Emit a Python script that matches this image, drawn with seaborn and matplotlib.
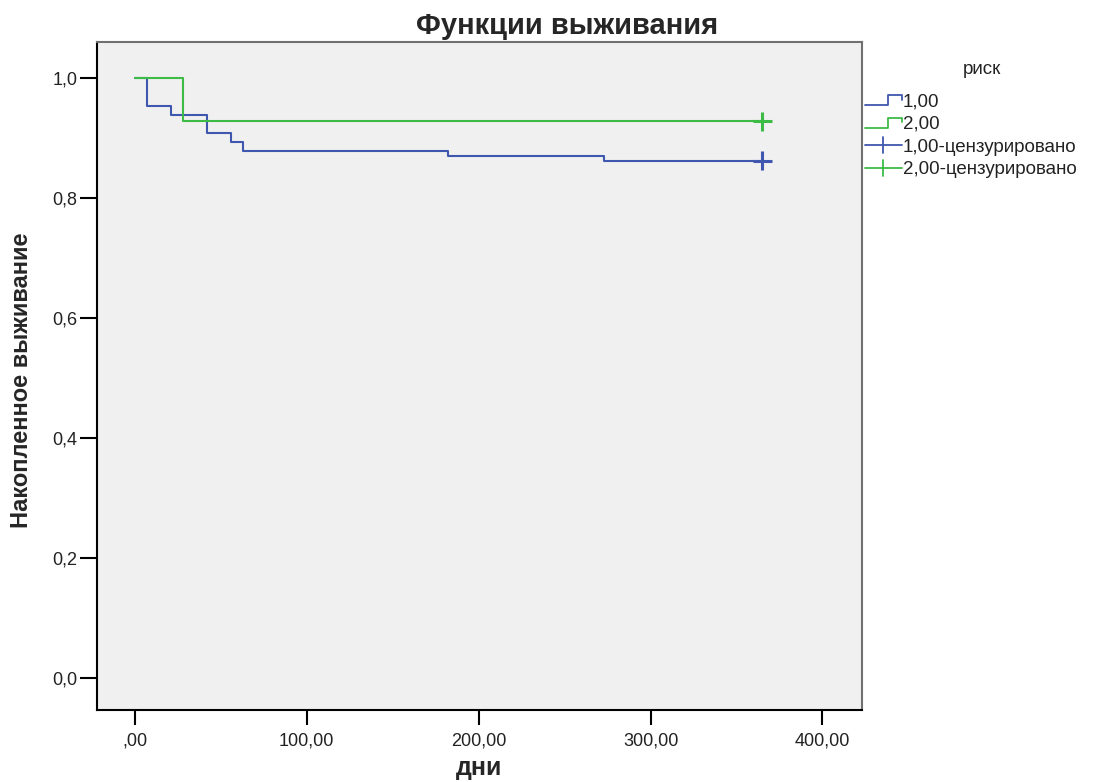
import matplotlib
matplotlib.use("Agg")
import matplotlib.pyplot as plt
from matplotlib.legend_handler import HandlerBase
from matplotlib.lines import Line2D
import pandas as pd
import seaborn as sns

# survival step data
risk1_days = [0, 7, 21, 42, 56, 63, 182, 273, 365]
risk1_surv = [1.0, 0.954, 0.939, 0.908, 0.893, 0.878, 0.870, 0.862, 0.862]
risk2_days = [0, 28, 365]
risk2_surv = [1.0, 0.928, 0.928]

groups = ["1,00", "2,00"]
censor_days = [365, 365]
censor_surv = [0.862, 0.928]

x_ticks = [0, 100, 200, 300, 400]
x_tick_labels = [",00", "100,00", "200,00", "300,00", "400,00"]
y_ticks = [0.0, 0.2, 0.4, 0.6, 0.8, 1.0]
y_tick_labels = ["0,0", "0,2", "0,4", "0,6", "0,8", "1,0"]

BLUE = "#3f57ae"
GREEN = "#3cbc46"
palette = {"1,00": BLUE, "2,00": GREEN}

sns.set_theme(style="ticks")
plt.rcParams["font.family"] = ["Liberation Sans", "DejaVu Sans"]

df = pd.concat([
    pd.DataFrame({"day": risk1_days, "surv": risk1_surv, "risk": groups[0]}),
    pd.DataFrame({"day": risk2_days, "surv": risk2_surv, "risk": groups[1]}),
])
cens = pd.DataFrame({"day": censor_days, "surv": censor_surv, "risk": groups})

fig = plt.figure(figsize=(11.02, 7.82), dpi=100)
ax = fig.add_axes([97 / 1102, 1 - 710 / 782, (862 - 97) / 1102, (710 - 42) / 782])
ax.set_facecolor("#f0f0f0")

sns.lineplot(data=df, x="day", y="surv", hue="risk", palette=palette,
             drawstyle="steps-post", estimator=None, sort=False,
             linewidth=1.5, legend=False, ax=ax)
sns.scatterplot(data=cens, x="day", y="surv", hue="risk", palette=palette,
                marker="+", s=190, linewidth=2.2, legend=False, ax=ax, zorder=5)

ax.set_xlim(-22, 423)
ax.set_ylim(-0.053, 1.06)
ax.set_xticks(x_ticks)
ax.set_xticklabels(x_tick_labels)
ax.set_yticks(y_ticks)
ax.set_yticklabels(y_tick_labels)
ax.tick_params(axis="both", direction="out", width=1.5, colors="black",
               labelsize=13, labelcolor="#222222", bottom=True, left=True)
ax.tick_params(axis="y", length=12, pad=2)
ax.tick_params(axis="x", length=11, pad=5)
ax.set_xlabel("")
ax.set_ylabel("")

for side in ["left", "bottom"]:
    ax.spines[side].set_color("black")
    ax.spines[side].set_linewidth(1.5)
for side in ["top", "right"]:
    ax.spines[side].set_visible(True)
    ax.spines[side].set_color("#707070")
    ax.spines[side].set_linewidth(1.5)

fig.text(567 / 1102, 1 - 26 / 782, "Функции выживания", ha="center", va="center",
         fontsize=21, fontweight="bold")
fig.text(479 / 1102, 1 - 768 / 782, "дни", ha="center", va="center",
         fontsize=18, fontweight="bold")
fig.text(22 / 1102, 1 - 380 / 782, "Накопленное выживание", ha="center", va="center",
         rotation=90, fontsize=17, fontweight="bold")
fig.text(982 / 1102, 1 - 70 / 782, "риск", ha="center", va="center",
         fontsize=13.5, color="#222222")


class StepHandler(HandlerBase):
    def create_artists(self, legend, orig_handle, xdescent, ydescent,
                       width, height, fontsize, trans):
        x0, x1 = -xdescent, -xdescent + width
        ylo, yhi = -ydescent + height * 0.1, -ydescent + height * 0.85
        xs = [x0, x0 + width * 0.62, x0 + width * 0.62, x1, x1]
        ys = [ylo, ylo, yhi, yhi, yhi - height * 0.35]
        line = Line2D(xs, ys, color=orig_handle.get_color(), lw=1.3,
                      transform=trans)
        return [line]


class CrossHandler(HandlerBase):
    def create_artists(self, legend, orig_handle, xdescent, ydescent,
                       width, height, fontsize, trans):
        x0, x1 = -xdescent, -xdescent + width
        ym = -ydescent + height / 2
        xm = (x0 + x1) / 2
        h = Line2D([x0, x1], [ym, ym], color=orig_handle.get_color(), lw=1.3,
                   transform=trans)
        v = Line2D([xm, xm], [ym - height * 0.6, ym + height * 0.6],
                   color=orig_handle.get_color(), lw=1.3, transform=trans)
        return [h, v]


h1 = Line2D([], [], color=BLUE)
h2 = Line2D([], [], color=GREEN)
h3 = Line2D([], [], color=BLUE, marker="+")
h4 = Line2D([], [], color=GREEN, marker="+")
leg = fig.legend([h1, h2, h3, h4],
                 ["1,00", "2,00", "1,00-цензурировано", "2,00-цензурировано"],
                 handler_map={h1: StepHandler(), h2: StepHandler(),
                              h3: CrossHandler(), h4: CrossHandler()},
                 loc="upper left", bbox_to_anchor=(865 / 1102, 1 - 93 / 782),
                 frameon=False, fontsize=13.5, handlelength=1.95,
                 handletextpad=0.05, labelspacing=0.3, borderaxespad=0,
                 borderpad=0)
for t in leg.get_texts():
    t.set_color("#222222")

fig.savefig("out.png", dpi=100, facecolor="white")
